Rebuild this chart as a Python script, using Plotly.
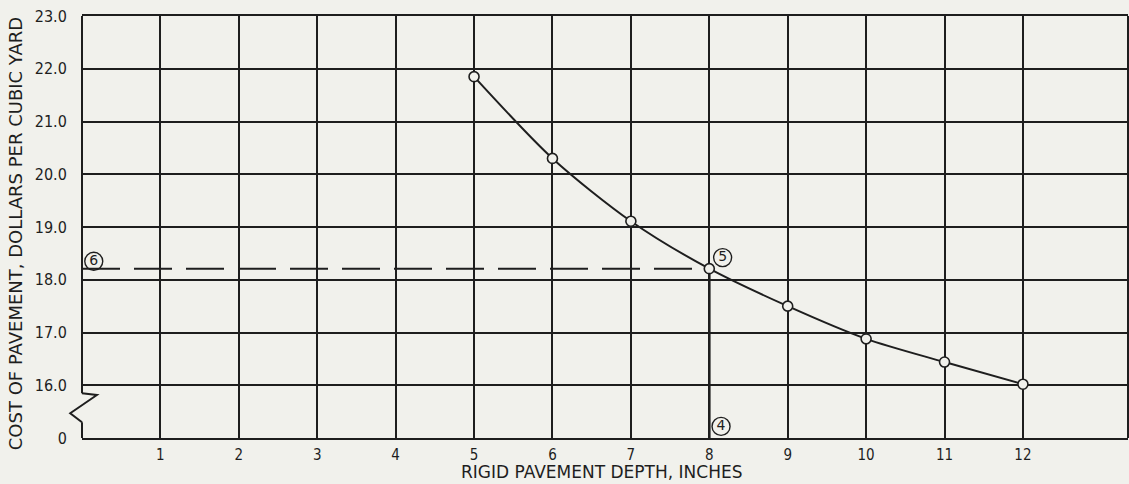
import plotly.graph_objects as go

# ---- data ----
depth = [5, 6, 7, 8, 9, 10, 11, 12]
cost = [21.85, 20.30, 19.11, 18.21, 17.50, 16.88, 16.44, 16.02]

x_ticks = [1, 2, 3, 4, 5, 6, 7, 8, 9, 10, 11, 12]
y_tick_values = [0, 16.0, 17.0, 18.0, 19.0, 20.0, 21.0, 22.0, 23.0]
y_tick_labels = ["0", "16.0", "17.0", "18.0", "19.0", "20.0", "21.0", "22.0", "23.0"]

chosen_depth = 8
chosen_cost = cost[depth.index(chosen_depth)]

callout_labels = ["6", "5", "4"]
callout_x = [0.15, 8.17, 8.15]
callout_y = [18.35, 18.42, 0.22]

BREAK_BASE = 15.0  # the axis is broken between 0 and 16.0


def yp(v):
    """Map a cost value onto the broken axis' plotting coordinate."""
    return v - BREAK_BASE if v >= 16.0 else v


X_MAX = 13.34
BG = "#f1f1ec"
INK = "#1e1e1e"
NARROW = "Liberation Sans Narrow, DejaVu Sans Condensed, DejaVu Sans"

fig = go.Figure()

# horizontal dashed line from the axis to point 5
fig.add_trace(go.Scatter(
    x=[0, chosen_depth], y=[yp(chosen_cost), yp(chosen_cost)],
    mode="lines", line=dict(color=INK, width=2, dash="38px,14px"),
    hoverinfo="skip", showlegend=False, cliponaxis=False))

# vertical line from point 5 down to the axis (point 4)
fig.add_trace(go.Scatter(
    x=[chosen_depth, chosen_depth], y=[yp(chosen_cost), 0],
    mode="lines", line=dict(color=INK, width=2.6),
    hoverinfo="skip", showlegend=False))

# cost curve
fig.add_trace(go.Scatter(
    x=depth, y=[yp(v) for v in cost],
    mode="lines+markers",
    line=dict(color=INK, width=2, shape="spline", smoothing=0.8),
    marker=dict(size=10, color=BG, line=dict(color=INK, width=1.6)),
    showlegend=False))

# circled callout numbers
fig.add_trace(go.Scatter(
    x=callout_x, y=[yp(v) for v in callout_y],
    mode="markers+text", text=callout_labels,
    textposition="middle center",
    textfont=dict(family="DejaVu Sans", size=14, color=INK),
    marker=dict(symbol="circle-open", size=18, color=INK, line=dict(width=1.4)),
    showlegend=False, cliponaxis=False))

shapes = []
# left border with the break symbol
shapes.append(dict(type="line", xref="paper", yref="paper",
                   x0=0, x1=0, y0=0, y1=0.30 / 8, line=dict(color=INK, width=2)))
shapes.append(dict(type="line", xref="paper", yref="paper",
                   x0=0, x1=0, y0=0.85 / 8, y1=1, line=dict(color=INK, width=2)))
zig = [(0.0, 0.85), (0.19, 0.815), (-0.15, 0.47), (0.0, 0.30)]
path = "M " + " L ".join(f"{zx / X_MAX:.5f},{zy / 8:.5f}" for zx, zy in zig)
shapes.append(dict(type="path", xref="paper", yref="paper", path=path,
                   line=dict(color=INK, width=2)))
# right border
shapes.append(dict(type="line", xref="paper", yref="paper",
                   x0=1, x1=1, y0=0, y1=1, line=dict(color=INK, width=2)))

fig.update_layout(
    width=1129, height=484,
    margin=dict(l=82, r=1, t=16, b=46),
    paper_bgcolor=BG, plot_bgcolor=BG,
    font=dict(family="DejaVu Sans", color=INK, size=13),
    shapes=shapes,
    xaxis=dict(range=[0, X_MAX], tickvals=x_ticks,
               ticktext=[str(t) for t in x_ticks],
               showgrid=True, gridcolor=INK, gridwidth=1.6,
               zeroline=False, showline=True, mirror=True,
               linecolor=INK, linewidth=2,
               ticks="outside", ticklen=2, tickcolor="rgba(0,0,0,0)",
               tickfont=dict(family=NARROW, size=15)),
    yaxis=dict(range=[0, 8], tickvals=[yp(v) for v in y_tick_values],
               ticktext=y_tick_labels,
               showgrid=True, gridcolor=INK, gridwidth=1.6,
               zeroline=False, showline=False,
               ticks="outside", ticklen=11, tickcolor="rgba(0,0,0,0)",
               tickfont=dict(family=NARROW, size=16)),
    annotations=[
        dict(text="RIGID PAVEMENT DEPTH, INCHES", xref="x", yref="paper",
             x=6.63, y=-0.081, showarrow=False, xanchor="center", yanchor="middle",
             font=dict(size=17)),
        dict(text="COST OF PAVEMENT, DOLLARS PER CUBIC YARD", xref="paper", yref="paper",
             x=-0.064, y=0.483, showarrow=False, textangle=-90,
             xanchor="center", yanchor="middle", font=dict(size=18)),
    ],
)

fig.write_html("out.html")
